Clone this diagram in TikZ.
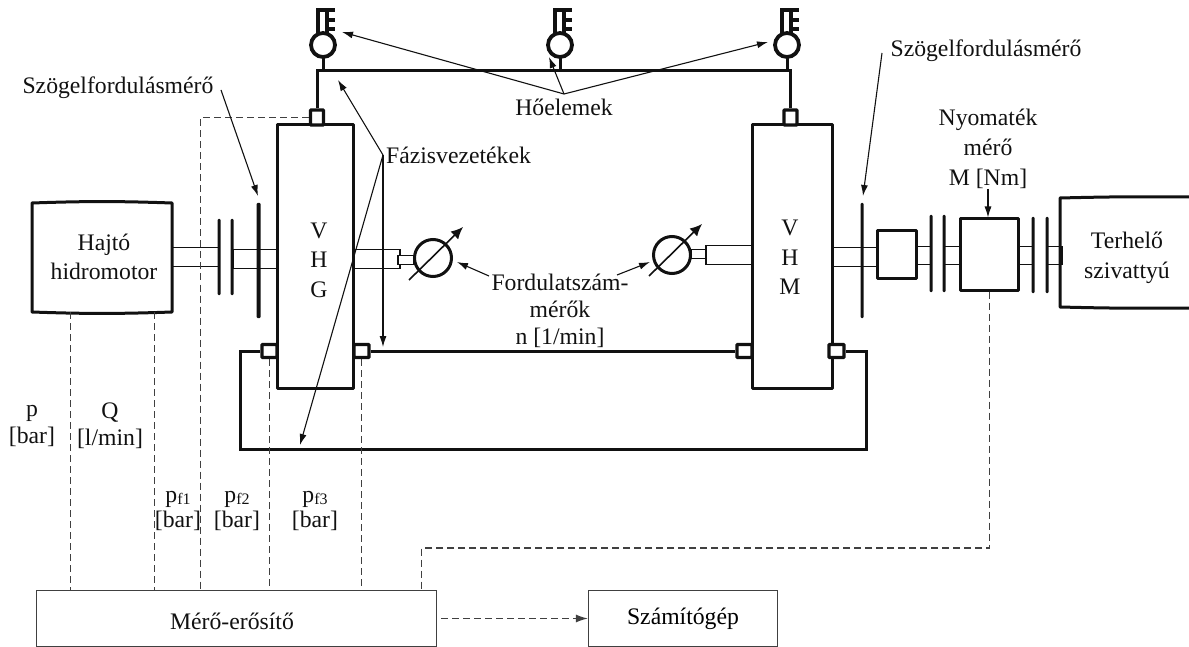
\documentclass[tikz,border=0pt]{standalone}
\usepackage{fontspec}
\setmainfont{Liberation Serif}
\usepackage{xcolor}
\usetikzlibrary{arrows.meta,positioning}
\definecolor{Ink}{HTML}{111111}
\definecolor{Dash}{HTML}{404040}
\newcommand{\pfindex}[1]{p\raisebox{-2pt}{\fontsize{16}{16}\selectfont f#1}}
\tikzset{
  homero/.pic={
    \draw[line width=3pt,color=Ink] (0,0)--(0,-14);
    \draw[line width=3.8pt,color=Ink] (0,-27) circle (12);
    \draw[line width=3.2pt,color=Ink] (-5,-38)--(-5,-62)--(12,-62);
    \draw[line width=3.2pt,color=Ink] (4,-38)--(4,-62);
    \draw[line width=3.2pt,color=Ink] (4,-52)--(12,-52);
    \draw[line width=3.2pt,color=Ink] (4,-43)--(12,-43);
  }
}
\begin{document}
\begin{tikzpicture}[x=1pt,y=-1pt,
  felirat/.style={align=center,inner sep=0pt,font=\fontsize{23.7}{29.5}\selectfont,color=Ink},
  gep/.style={draw=Ink,line width=3pt,line join=round,minimum width=#1},
  tengely/.style={draw=Ink,line width=1.1pt,fill=white,inner sep=0pt},
  lemez/.style={fill=Ink,inner sep=0pt,minimum width=3pt,rounded corners=1pt},
  erzekelo/.style={draw=Ink,line width=3.4pt,fill=white,inner sep=0pt,rounded corners=0.8pt},
  vezetek/.style={draw=Ink,line width=3pt,line join=miter},
  szagg/.style={draw=Dash,line width=1.2pt,dash pattern=on 7pt off 4pt},
  kapu/.style={draw=Dash,line width=1.2pt,inner sep=0pt},
  mutato/.style={-{Latex[length=11pt,width=7pt]},line width=1.1pt,color=Ink},
  mero/.style={circle,draw=Ink,line width=3pt,inner sep=0pt,minimum size=37pt},
  atlos/.style={-{Latex[length=12pt,width=11pt]},line width=1.6pt,color=Ink}]
\useasboundingbox (0,0) rectangle (1189,647);
% tengelyek
\node[tengely,minimum width=47pt,minimum height=19pt] (t1) at (195,257) {};
\node[tengely,minimum width=44pt,minimum height=19pt] (t2) at (255,259) {};
\node[tengely,minimum width=47pt,minimum height=19pt] (t3) at (376.5,259) {};
\node[tengely,minimum width=16pt,minimum height=9pt] (t4) at (406,260) {};
\node[tengely,minimum width=46pt,minimum height=19pt] (t5) at (729,255) {};
\node[tengely,minimum width=15pt,minimum height=9pt] (t6) at (698.5,254) {};
\node[tengely,minimum width=45pt,minimum height=19pt] (t7) at (854.5,257) {};
\node[tengely,minimum width=15pt,minimum height=18pt] (t8) at (923.5,255.5) {};
\node[tengely,minimum width=16pt,minimum height=18pt] (t9) at (952,255.5) {};
\node[tengely,minimum width=15pt,minimum height=18pt] (t10) at (1025.5,255.5) {};
\node[tengely,minimum width=15pt,minimum height=18pt] (t11) at (1054.5,255.5) {};
% gepek
\node[gep=76pt,minimum height=263pt,inner sep=0pt] (vhg) at (315,256.5) {};
\node[gep=80pt,minimum height=263pt,inner sep=0pt] (vhm) at (792,256.5) {};
\node[felirat] (vhgnev) at (319,260) {V\\H\\G};
\node[felirat] (vhmnev) at (790,257.5) {V\\H\\M};
\coordinate (hajtoa) at (32,203);
\coordinate (hajtob) at (172,203);
\coordinate (hajtoc) at (172,312);
\coordinate (hajtod) at (32,312);
\draw[vezetek,line join=round] (hajtoa) to[bend left=2] (hajtob) -- (hajtoc) to[bend left=2] (hajtod) -- cycle;
\node[felirat] (hajto) at (104,257) {Hajtó\\hidromotor};
\coordinate (terheloa) at (1189,197);
\coordinate (terhelob) at (1060,198);
\coordinate (terheloc) at (1060,307);
\coordinate (terhelod) at (1189,308);
\draw[vezetek,line join=round] (terheloa) to[bend right=1] (terhelob) -- (terheloc) to[bend right=1] (terhelod);
\node[felirat] (terhelo) at (1127,258) {Terhelő\\szivattyú};
\node[gep=39pt,minimum height=47pt,inner sep=0pt,fill=white] (kisdoboz) at (896.5,254.5) {};
\node[gep=58pt,minimum height=71pt,inner sep=0pt,fill=white] (nyomdoboz) at (989,254.5) {};
% tarcsak
\node[lemez,minimum height=76pt] (l1) at (219,257) {};
\node[lemez,minimum height=76pt] (l2) at (232,257) {};
\node[lemez,minimum width=4pt,minimum height=115pt] (szog1) at (258.5,260.5) {};
\node[lemez,minimum height=115pt] (szog2) at (862,260.5) {};
\node[lemez,minimum height=77pt] (l3) at (931,253.5) {};
\node[lemez,minimum height=77pt] (l4) at (944,253.5) {};
\node[lemez,minimum height=76pt] (l5) at (1033,255) {};
\node[lemez,minimum height=76pt] (l6) at (1047,255) {};
% vezetekek
\node[erzekelo,minimum width=13pt,minimum height=15pt] (ef1) at (317,117.5) {};
\node[erzekelo,minimum width=13pt,minimum height=15pt] (ef2) at (790.5,117.5) {};
\node[erzekelo,minimum width=15pt,minimum height=13pt] (ea1) at (269.5,351) {};
\node[erzekelo,minimum width=15pt,minimum height=13pt] (ea2) at (361.5,351) {};
\node[erzekelo,minimum width=15pt,minimum height=13pt] (ea3) at (744.5,351) {};
\node[erzekelo,minimum width=15pt,minimum height=13pt] (ea4) at (836.5,351) {};
\draw[vezetek] (ef1.north) -- ++(0,-38) -| (ef2.north);
\draw[vezetek] (ea2.east) -- (ea3.west);
\draw[vezetek] (ea1.west) -| (240,449) -| (866,351) -- (ea4.east);
\pic at (323,72) {homero};
\pic at (560,72) {homero};
\pic at (787,72) {homero};
% merok
\node[mero] (m1) at (433,258) {};
\node[mero] (m2) at (672,255) {};
\draw[atlos] ([shift={(-24,22)}]m1.center) -- ([shift={(30,-31)}]m1.center);
\draw[atlos] ([shift={(-23,21)}]m2.center) -- ([shift={(30,-31)}]m2.center);
% dobozok
\node[kapu,minimum width=400pt,minimum height=56pt] (erosito) at (236.5,618.5) {};
\node[felirat] (erositonev) at (232,621) {Mérő-erősítő};
\node[kapu,minimum width=189pt,minimum height=56pt,font=\fontsize{23.7}{29}\selectfont] (gep) at (683,618.5) {Számítógép};
% szaggatott vonalak
\draw[szagg] ([xshift=-33.5pt]hajto.south |- hajtoc) coordinate (pvonal) -- (pvonal |- erosito.north);
\draw[szagg] ([xshift=50.5pt]hajto.south |- hajtoc) coordinate (qvonal) -- (qvonal |- erosito.north);
\draw[szagg] (ef1.west) -- ++(-108,0) coordinate (pfsarok) -- (pfsarok |- erosito.north);
\draw[szagg] (ea1.south) -- (ea1.south |- erosito.north);
\draw[szagg] (ea2.south) -- (ea2.south |- erosito.north);
\draw[szagg] ([xshift=0.5pt]nyomdoboz.south) -- ++(0,256.5) -| ([xshift=185pt]erosito.north);
\draw[szagg,-{Latex[length=12pt,width=8pt]}] ([xshift=4pt]erosito.east) -- (gep.west);
% feliratok
\node[felirat] (szogbal) at (118,88) {Szögelfordulásmérő};
\node[felirat] (szogjobb) at (986,51) {Szögelfordulásmérő};
\node[felirat] (hoelem) at (564,107) {Hőelemek};
\node[felirat] (fazis) at (458.5,155) {Fázisvezetékek};
\node[felirat,font=\fontsize{23.7}{27}\selectfont] (fordulat) at (560,310.5) {Fordulatszám-\\mérők\\n [1/min]};
\node[felirat,font=\fontsize{23.7}{30}\selectfont] (nyomatek) at (988,149) {Nyomaték\\mérő\\M [Nm]};
\node[felirat,font=\fontsize{23.7}{27}\selectfont] (pcimke) at (32,426) {p\\{[}bar]};
\node[felirat,font=\fontsize{23.7}{27}\selectfont] (qcimke) at (110,426) {Q\\{[}l/min]};
\node[felirat,font=\fontsize{23.7}{25}\selectfont] (pf1) at (178,511) {\pfindex{1}\\{[}bar]};
\node[felirat,font=\fontsize{23.7}{25}\selectfont] (pf2) at (237,511) {\pfindex{2}\\{[}bar]};
\node[felirat,font=\fontsize{23.7}{25}\selectfont] (pf3) at (315,511) {\pfindex{3}\\{[}bar]};
% mutatok
\coordinate (fazisfrom) at (383,155);
\coordinate (fazisa) at (338,80);
\coordinate (fazisb) at (300,445);
\coordinate (fazisc) at (383,347);
\draw[mutato] (fazisfrom) -- (fazisa);
\draw[mutato] (fazisfrom) -- (fazisb);
\draw[mutato] (fazisfrom) -- (fazisc);
\coordinate (hofrom) at (564,94);
\coordinate (hoa) at (342,32);
\coordinate (hob) at (549,57);
\coordinate (hoc) at (768,42);
\draw[mutato] (hofrom) -- (hoa);
\draw[mutato] (hofrom) -- (hob);
\draw[mutato] (hofrom) -- (hoc);
\coordinate (szogbalfrom) at (221,90);
\coordinate (szogbalto) at (258,196);
\draw[mutato] (szogbalfrom) -- (szogbalto);
\coordinate (szogjobbfrom) at (882,53);
\coordinate (szogjobbto) at (863,196);
\draw[mutato] (szogjobbfrom) -- (szogjobbto);
\coordinate (fordbalfrom) at (489,276);
\coordinate (fordbalto) at (457,262);
\coordinate (fordjobbfrom) at (617,275);
\coordinate (fordjobbto) at (650,262);
\draw[mutato] (fordbalfrom) -- (fordbalto);
\draw[mutato] (fordjobbfrom) -- (fordjobbto);
\draw[mutato] (nyomatek.south |- 0,189) coordinate (nyomfrom) -- (nyomfrom |- nyomdoboz.north);
\end{tikzpicture}
\end{document}
